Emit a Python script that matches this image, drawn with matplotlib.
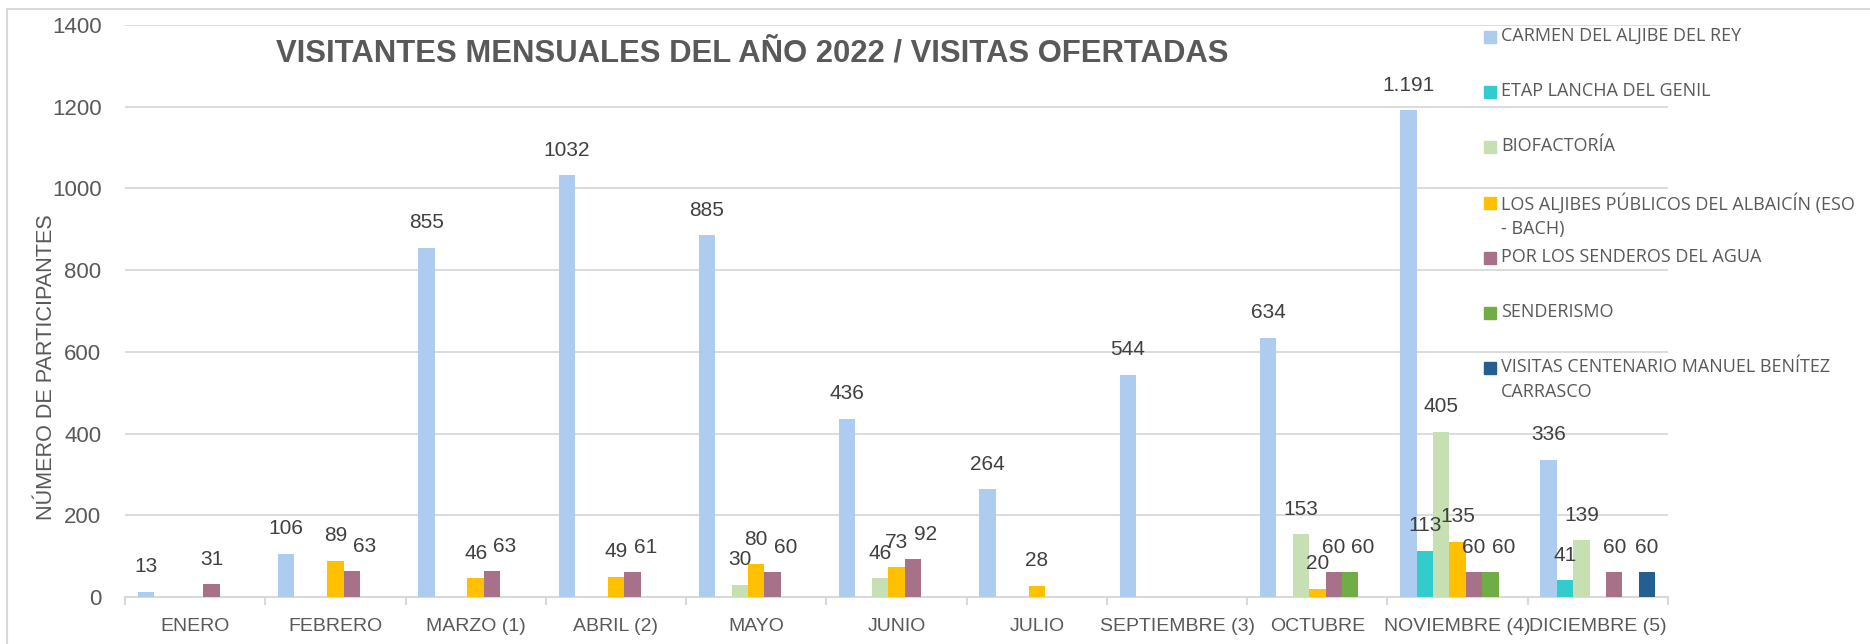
import matplotlib
matplotlib.use('Agg')
import matplotlib.pyplot as plt
import numpy as np
from matplotlib.patches import Rectangle

# Data
months = ["ENERO", "FEBRERO", "MARZO (1)", "ABRIL (2)", "MAYO", "JUNIO", "JULIO",
          "SEPTIEMBRE (3)", "OCTUBRE", "NOVIEMBRE (4)", "DICIEMBRE (5)"]
n = None
carmen = [13, 106, 855, 1032, 885, 436, 264, 544, 634, 1191, 336]
etap = [n, n, n, n, n, n, n, n, n, 113, 41]
biofactoria = [n, n, n, n, 30, 46, n, n, 153, 405, 139]
aljibes = [n, 89, 46, 49, 80, 73, 28, n, 20, 135, n]
senderos = [31, 63, 63, 61, 60, 92, n, n, 60, 60, 60]
senderismo = [n, n, n, n, n, n, n, n, 60, 60, n]
centenario = [n, n, n, n, n, n, n, n, n, n, 60]

series_names = ["CARMEN DEL ALJIBE DEL REY", "ETAP LANCHA DEL GENIL", "BIOFACTORÍA",
                "LOS ALJIBES PÚBLICOS DEL ALBAICÍN (ESO\n- BACH)", "POR LOS SENDEROS DEL AGUA",
                "SENDERISMO", "VISITAS CENTENARIO MANUEL BENÍTEZ\nCARRASCO"]
series_values = [carmen, etap, biofactoria, aljibes, senderos, senderismo, centenario]
colors = ["#AECBF0", "#33CCCC", "#C6E0B4", "#FFC000", "#A8718A", "#70AD47", "#255E91"]

W, H = 1870, 644
fig = plt.figure(figsize=(W / 100, H / 100), dpi=100)
ax = fig.add_axes([125 / W, (H - 597) / H, (1668 - 125) / W, (597 - 25) / H])

grey = "#595959"
font = "Liberation Sans"
x = np.arange(len(months))
bw = 0.117
nser = len(series_values)
px_per_unit = (597 - 25) / 1400

arr = np.array([[np.nan if a is None else a for a in vals] for vals in series_values], dtype=float)

for i, col in enumerate(colors):
    v = arr[i]
    xs = x + (i - (nser - 1) / 2) * bw
    ax.bar(xs, v, width=bw, color=col, zorder=3)
    for j, (xi, vi) in enumerate(zip(xs, v)):
        if np.isnan(vi):
            continue
        txt = f"{int(vi):,}".replace(",", ".") if vi > 1100 else str(int(vi))
        # labels almost level with the label just left of them are pushed right
        dx = 0
        if i > 0 and not np.isnan(arr[i - 1, j]) and abs(vi - arr[i - 1, j]) * px_per_unit < 10.8:
            dx = 13
        ax.annotate(txt, (xi, vi), xytext=(dx, 25), textcoords='offset pixels',
                    ha='center', va='center', fontsize=15, color="#404040",
                    family=font, zorder=4)

# Axes styling
ax.set_xlim(-0.5, len(months) - 0.5)
ax.set_ylim(0, 1400)
ax.set_yticks(np.arange(0, 1401, 200))
ax.yaxis.grid(True, color="#D9D9D9", linewidth=1.3, zorder=0)
ax.set_axisbelow(True)
for s in ['top', 'right', 'left']:
    ax.spines[s].set_visible(False)
ax.spines['bottom'].set_color("#D9D9D9")
ax.spines['bottom'].set_linewidth(1.5)

ax.set_xticks(np.arange(-0.5, len(months), 1.0))
ax.set_xticklabels([])
ax.set_xticks(x, minor=True)
ax.set_xticklabels(months, minor=True, fontsize=14, color=grey, family=font)
ax.tick_params(axis='x', which='major', length=6, width=1.5, color="#D9D9D9")
ax.tick_params(axis='x', which='minor', length=0, pad=15)
ax.tick_params(axis='y', length=0, pad=17, labelsize=16, labelcolor=grey)
for lab in ax.get_yticklabels():
    lab.set_family(font)

# Titles
fig.text(752 / W, 1 - 53 / H, "VISITANTES MENSUALES DEL AÑO 2022 / VISITAS OFERTADAS",
         ha='center', va='center', fontsize=22.3, fontweight='bold', color=grey, family=font)
fig.text(47 / W, 1 - 367 / H, "NÚMERO DE PARTICIPANTES", rotation=90,
         ha='center', va='center', fontsize=15.6, color=grey, family=font)

# Legend (drawn by hand to follow the original layout)
for i, (name, col) in enumerate(zip(series_names, colors)):
    yc = 37 + i * 55.2
    fig.add_artist(Rectangle((1484 / W, 1 - (yc + 6) / H), 12 / W, 12 / H,
                             transform=fig.transFigure, color=col))
    fig.text(1501 / W, 1 - (yc - 10) / H, name, ha='left', va='top', fontsize=13,
             color=grey, family="Open Sans", linespacing=1.45)

# Outer frame
fig.add_artist(Rectangle((7 / W, -0.1), 1.2, 1.1 - 9 / H, transform=fig.transFigure,
                         fill=False, edgecolor="#D9D9D9", linewidth=1.5))

fig.savefig('out.png', dpi=100)
print('Saved out.png')
